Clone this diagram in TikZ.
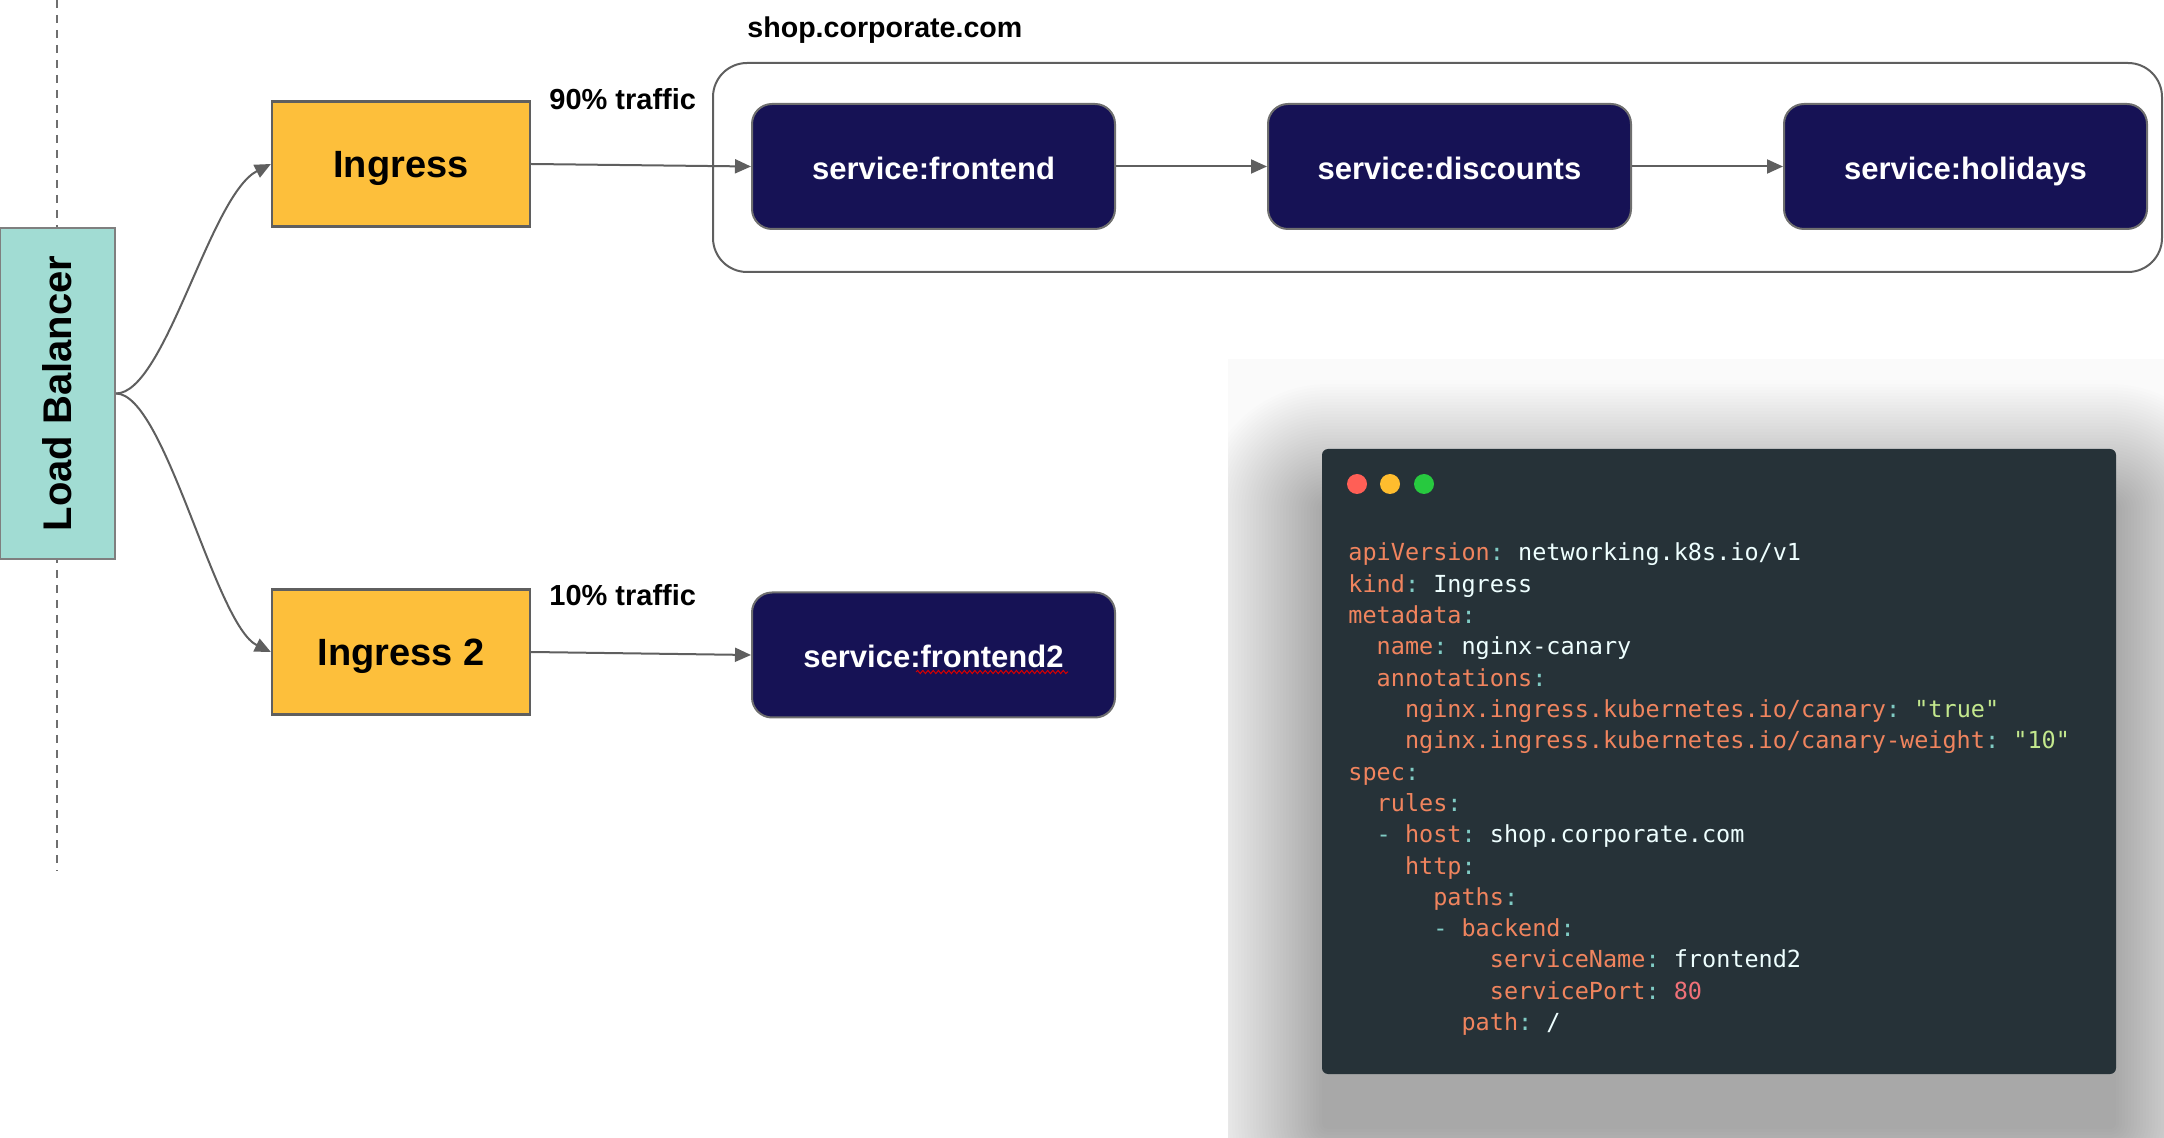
\documentclass[tikz,border=0pt]{standalone}
\usepackage{fontspec}
\setmainfont{Liberation Sans}
\setmonofont{DejaVu Sans Mono}
\usetikzlibrary{arrows.meta,decorations.pathmorphing}

\definecolor{lbteal}{HTML}{A1DCD3}
\definecolor{ingyellow}{HTML}{FDBF3B}
\definecolor{svcnavy}{HTML}{161255}
\definecolor{edgegray}{HTML}{5F5F5F}
\definecolor{codebg}{HTML}{263238}
\definecolor{ykey}{HTML}{F0845E}
\definecolor{ycolon}{HTML}{80CBC4}
\definecolor{yval}{HTML}{EEFFFF}
\definecolor{ystr}{HTML}{C3E88D}
\definecolor{ynum}{HTML}{F07178}
\definecolor{dotred}{HTML}{FF5F56}
\definecolor{dotyellow}{HTML}{FFBD2E}
\definecolor{dotgreen}{HTML}{27C93F}

% yaml colouring
\newcommand{\yk}[1]{\textcolor{ykey}{#1}\textcolor{ycolon}{:}}
\newcommand{\yv}[1]{\textcolor{yval}{#1}}
\newcommand{\ydash}{\textcolor{ycolon}{-}}

\begin{document}
\begin{tikzpicture}[x=0.5pt,y=-0.5pt,
    lbbox/.style={draw=edgegray!80, line width=1pt, fill=lbteal, rotate=90,
      minimum width=165.5pt, minimum height=57.5pt, inner sep=0pt,
      font=\bfseries\fontsize{20}{24}\selectfont},
    ingbox/.style={draw=edgegray, line width=1.1pt, fill=ingyellow,
      minimum width=129pt, minimum height=62.5pt, inner sep=0pt,
      text height=17pt, text depth=3.2pt,
      font=\bfseries\fontsize{19}{23}\selectfont},
    svcbox/.style={draw=edgegray!90, line width=1pt, fill=svcnavy, text=white,
      rounded corners=10pt, minimum width=181.5pt, minimum height=62.5pt,
      inner sep=0pt, text height=14pt, text depth=1.4pt,
      font=\bfseries\fontsize{15.5}{19}\selectfont},
    lbl/.style={anchor=west, inner sep=0pt, font=\bfseries\fontsize{14.5}{18}\selectfont},
    flow/.style={draw=edgegray, line width=1pt, -{Triangle[length=8pt,width=7pt]}},
    codeln/.style={anchor=base west, inner sep=0pt, text=yval,
      font=\ttfamily\fontsize{11.75}{14}\selectfont}]
    \useasboundingbox (0,0) rectangle (2164,1138);

    % shadow of the code window
    \begin{scope}
        \clip (1228,359) rectangle (2164,1138);
        \fill[black!2] (1228,359) rectangle (2164,1138);
        \foreach \e in {0,3,...,120}
            \fill[black, opacity=0.009, rounded corners=\e*0.5pt+3pt]
                (1322-\e,{504-\e}) rectangle (2116+\e,{1129+\e});
    \end{scope}

    \draw[edgegray!90, line width=0.9pt, dash pattern=on 4pt off 3.5pt] (57,0) -- (57,871);

    \node[lbbox] (lb) at (57.5,393.5) {Load Balancer};

    \node[ingbox] (ing) at (401,164) {Ingress};
    \node[ingbox] (ing2) at (401,652) {Ingress 2};

    \node[draw=edgegray, line width=1pt, rounded corners=17pt,
      minimum width=724.5pt, minimum height=104.5pt] (grp) at (1437.5,167.5) {};
    \node[lbl, font=\bfseries\fontsize{14.3}{18}\selectfont] (host) at (747,30) {shop.corporate.com};

    \node[svcbox] (fe) at (933.5,166.5) {service:frontend};
    \node[svcbox] (disc) at (1449.5,166.5) {service:discounts};
    \node[svcbox] (hol) at (1965.5,166.5) {service:holidays};
    \node[svcbox] (fe2) at (933.5,655) {service:frontend2};
    \draw[red!85!black, line width=0.5pt, decorate,
      decoration={snake, amplitude=0.8pt, segment length=2.6pt}] (916,672) -- (1068,672);

    \node[lbl] (t90) at (549,99) {90\% traffic};
    \node[lbl] (t10) at (549,595) {10\% traffic};

    % connectors
    \draw[flow] (lb.south) .. controls (165,393.5) and (210,195) .. (ing.west);
    \draw[flow] (lb.south) .. controls (165,393.5) and (215,625) .. (ing2.west);
    \draw[flow] (ing.east) -- (fe.west);
    \draw[flow] (fe.east) -- (disc.west);
    \draw[flow] (disc.east) -- (hol.west);
    \draw[flow] (ing2.east) -- (fe2.west);

    % code window
    \node[fill=codebg, rounded corners=3pt, minimum width=397pt, minimum height=312.5pt,
      inner sep=0pt] (code) at (1719,761.5) {};
    \fill[dotred] (1357,484) circle[radius=5pt];
    \fill[dotyellow] (1390,484) circle[radius=5pt];
    \fill[dotgreen] (1424,484) circle[radius=5pt];

    \foreach \txt [count=\i from 0] in {
        {\yk{apiVersion} \yv{networking.k8s.io/v1}},
        {\yk{kind} \yv{Ingress}},
        {\yk{metadata}},
        {\ \ \yk{name} \yv{nginx-canary}},
        {\ \ \yk{annotations}},
        {\ \ \ \ \yk{nginx.ingress.kubernetes.io/canary} \textcolor{ystr}{"true"}},
        {\ \ \ \ \yk{nginx.ingress.kubernetes.io/canary-weight} \textcolor{ystr}{"10"}},
        {\yk{spec}},
        {\ \ \yk{rules}},
        {\ \ \ydash\ \yk{host} \yv{shop.corporate.com}},
        {\ \ \ \ \yk{http}},
        {\ \ \ \ \ \ \yk{paths}},
        {\ \ \ \ \ \ \ydash\ \yk{backend}},
        {\ \ \ \ \ \ \ \ \ \ \yk{serviceName} \yv{frontend2}},
        {\ \ \ \ \ \ \ \ \ \ \yk{servicePort} \textcolor{ynum}{80}},
        {\ \ \ \ \ \ \ \ \yk{path} \yv{/}}}
        \node[codeln] (ln\i) at (1348,{561+31.3*\i}) {\txt};
\end{tikzpicture}
\end{document}
